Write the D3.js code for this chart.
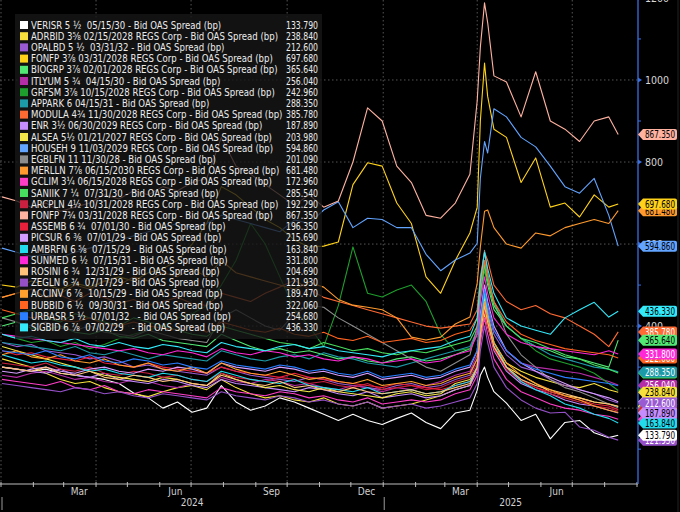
<!DOCTYPE html>
<html><head><meta charset="utf-8">
<script src="https://cdn.jsdelivr.net/npm/d3@7"></script>
<style>
html,body{margin:0;padding:0;background:#000;}
svg{display:block;}
text{font-family:'Liberation Sans Narrow','DejaVu Sans Condensed','Roboto Condensed',sans-serif;}
</style></head><body>
<svg id="c" width="680" height="512"></svg>
<script>
// ---------- DATA ----------
const dates = ["2024-01-02","2024-01-16","2024-01-30","2024-02-13","2024-02-27","2024-03-12","2024-03-26","2024-04-09","2024-04-23","2024-05-07","2024-05-21","2024-06-04","2024-06-18","2024-07-02","2024-07-16","2024-07-30","2024-08-13","2024-08-27","2024-09-10","2024-09-24","2024-10-08","2024-10-22","2024-11-05","2024-11-19","2024-12-03","2024-12-17","2024-12-31","2025-01-14","2025-01-28","2025-02-11","2025-02-25","2025-03-11","2025-03-25","2025-04-01","2025-04-04","2025-04-08","2025-04-11","2025-04-17","2025-04-29","2025-05-13","2025-05-27","2025-06-10","2025-06-24","2025-07-08","2025-07-22","2025-08-05","2025-08-14"];

const seriesNames = [
"VERISR 5 ½  05/15/30 - Bid OAS Spread (bp)",
"ADRBID 3⅝ 02/15/2028 REGS Corp - Bid OAS Spread (bp)",
"OPALBD 5 ½  03/31/32 - Bid OAS Spread (bp)",
"FONFP 3⅞ 03/31/2028 REGS Corp - Bid OAS Spread (bp)",
"BIOGRP 3⅞ 02/01/2028 REGS Corp - Bid OAS Spread (bp)",
"ITLYUM 5 ¾  04/15/30 - Bid OAS Spread (bp)",
"GRFSM 3⅞ 10/15/2028 REGS Corp - Bid OAS Spread (bp)",
"APPARK 6 04/15/31 - Bid OAS Spread (bp)",
"MODULA 4¾ 11/30/2028 REGS Corp - Bid OAS Spread (bp)",
"ENR 3½ 06/30/2029 REGS Corp - Bid OAS Spread (bp)",
"ALSEA 5½ 01/21/2027 REGS Corp - Bid OAS Spread (bp)",
"HOUSEH 9 11/03/2029 REGS Corp - Bid OAS Spread (bp)",
"EGBLFN 11 11/30/28 - Bid OAS Spread (bp)",
"MERLLN 7⅞ 06/15/2030 REGS Corp - Bid OAS Spread (bp)",
"GCLIM 3¼ 06/15/2028 REGS Corp - Bid OAS Spread (bp)",
"SANIIK 7 ¼  07/31/30 - Bid OAS Spread (bp)",
"ARCPLN 4½ 10/31/2028 REGS Corp - Bid OAS Spread (bp)",
"FONFP 7¾ 03/31/2028 REGS Corp - Bid OAS Spread (bp)",
"ASSEMB 6 ¾  07/01/30 - Bid OAS Spread (bp)",
"PICSUR 6 ⅜  07/01/29 - Bid OAS Spread (bp)",
"AMBRFN 6 ⅝  07/15/29 - Bid OAS Spread (bp)",
"SUNMED 6 ½  07/15/31 - Bid OAS Spread (bp)",
"ROSINI 6 ¾  12/31/29 - Bid OAS Spread (bp)",
"ZEGLN 6 ¾  07/17/29 - Bid OAS Spread (bp)",
"ACCINV 6 ⅞  10/15/29 - Bid OAS Spread (bp)",
"BUBBID 6 ½  09/30/31 - Bid OAS Spread (bp)",
"URBASR 5 ½  07/01/32   - Bid OAS Spread (bp)",
"SIGBID 6 ⅞  07/02/29   - Bid OAS Spread (bp)"
];

const seriesColors = ["#ffffff","#f7e03c","#9a5bd2","#ffd21a","#52e874","#b42ca6","#1e9e2c","#1c9aa8","#ff6a33","#c48cff","#f2e64a","#62a4ff","#8c8c8c","#ff9a2e","#ff3ec8","#47e05e","#c8203e","#ffb2a0","#e8203a","#d59cff","#22dcee","#ff28d6","#ffc27a","#9550c8","#ffa02e","#ff6320","#2a7eff","#33e9fa"];

const v_VERISR = [300,295,290,295,285,280,275,270,260,237,225,200,215,190,200,255,215,195,205,225,215,200,185,170,185,170,160,175,188,165,150,188,195,244,280,300,275,240,212,170,185,125,165,170,140,128,133.79];
const v_ADRBID = [320,310,300,285,270,260,265,250,240,235,228,240,250,255,245,270,250,235,225,230,220,215,225,210,205,215,200,205,210,220,230,245,255,300,400,470,430,360,310,290,275,265,255,250,260,245,238.84];
const v_OPALBD = [360,350,355,340,335,330,320,325,315,300,305,295,290,285,280,300,290,280,275,270,265,275,270,260,255,250,245,255,260,250,255,270,280,320,420,480,440,380,330,300,290,270,255,245,235,220,212.60];
const v_FONFP3 = [500,495,510,500,490,505,495,510,520,510,530,540,560,600,650,740,720,690,660,640,610,593,595,605,745,798,790,700,650,520,480,560,627,690,900,1041,960,880,860,750,810,690,700,666,720,690,697.68];
const v_BIOGRP = [400,410,395,390,400,385,380,390,375,370,380,365,360,355,350,380,365,350,340,345,335,340,330,320,325,315,310,320,325,315,320,330,345,380,470,540,500,440,400,370,350,340,325,320,310,300,365.64];
const v_ITLYUM = [280,275,285,290,280,270,275,265,260,270,265,255,250,260,255,275,265,260,270,265,255,260,250,245,255,250,240,250,245,255,265,280,290,330,420,500,450,390,340,310,300,295,290,285,275,265,256.04];
const v_GRFSM  = [380,370,360,365,350,360,345,355,370,380,390,400,420,430,450,500,560,650,600,520,440,400,350,450,593,480,471,488,500,460,380,340,345,380,470,540,510,450,400,370,340,320,310,300,285,260,242.96];
const v_APPARK = [360,355,350,345,340,350,335,330,340,330,320,330,325,320,315,340,330,320,315,325,330,320,335,325,320,310,305,300,310,320,330,340,350,390,480,560,520,460,400,370,350,330,320,310,300,295,288.35];
const v_MODULA = [470,480,490,470,475,460,480,470,455,465,450,460,470,455,450,480,470,460,480,495,512,490,470,460,450,440,430,420,410,400,395,400,405,440,520,580,560,500,460,440,450,430,420,400,380,350,385.78];
const v_ENR    = [300,295,290,285,295,280,275,285,270,265,260,270,265,255,250,270,260,255,250,245,240,250,245,235,230,240,225,230,235,225,230,245,255,290,370,440,400,340,290,260,245,235,220,210,205,195,187.89];
const v_ALSEA  = [350,340,330,320,310,300,290,280,275,270,265,275,270,260,255,285,270,260,250,255,245,240,250,240,235,230,225,235,240,230,235,260,270,300,380,430,400,350,300,280,260,240,230,225,215,210,203.98];
const v_HOUSEH = [590,580,570,575,568,580,590,600,610,620,630,640,650,640,650,670,660,650,640,630,659,650,683,703,640,663,660,640,640,575,535,561,578,602,760,850,822,930,910,860,837,790,740,724,760,670,594.86];
const v_EGBLFN = [420,410,400,410,395,390,400,385,380,375,390,380,370,365,360,420,440,420,400,390,430,450,446,420,400,380,360,340,320,300,290,310,330,400,500,585,529,460,380,330,300,270,250,240,225,210,201.09];
const v_MERLLN = [470,480,490,470,480,500,490,510,500,520,510,530,520,540,520,560,530,520,510,500,490,507,495,465,451,446,440,420,373,366,373,405,422,505,593,680,683,640,600,590,627,620,640,650,660,650,681.48];
const v_GCLIM  = [270,265,260,255,265,250,245,255,240,235,245,240,235,230,225,250,240,235,230,240,235,225,230,220,215,225,210,215,220,215,220,235,245,280,360,420,380,320,270,240,225,210,200,195,185,180,172.96];
const v_SANIIK = [420,430,440,420,410,430,420,410,400,420,410,400,390,380,375,400,390,380,370,360,355,345,360,350,340,345,335,330,340,335,345,355,365,400,480,550,510,450,400,370,360,345,330,320,305,295,285.54];
const v_ARCPLN = [310,305,300,310,295,290,300,285,280,290,285,275,280,270,265,285,275,270,265,275,270,260,265,255,250,260,245,250,255,245,250,265,275,310,390,450,410,350,300,270,250,235,225,215,205,200,192.29];
const v_FONFP7 = [715,705,690,700,680,690,700,720,710,730,720,740,730,750,760,860,790,770,745,720,695,720,690,705,800,932,900,790,750,670,663,700,770,950,1080,1188,1140,1010,995,910,1020,900,880,850,900,910,867.35];
const v_ASSEMB = [340,330,335,325,320,315,325,310,305,300,310,300,295,290,285,300,290,285,280,275,285,275,270,265,260,255,250,260,255,250,245,255,265,300,380,440,400,345,295,265,250,240,230,220,210,205,196.35];
const v_PICSUR = [290,285,295,300,290,285,295,300,290,285,295,290,300,295,285,310,300,295,290,300,295,285,290,280,275,285,270,275,280,270,275,290,300,340,430,500,460,400,340,310,290,275,260,245,235,225,215.69];
const v_AMBRFN = [330,320,310,315,305,300,290,295,285,280,275,285,280,270,265,290,280,270,265,260,270,255,250,245,240,250,235,240,245,235,240,255,265,300,400,480,430,360,300,265,245,230,210,200,185,175,163.84];
const v_SUNMED = [380,375,370,365,360,355,350,345,340,345,335,330,340,335,325,345,335,330,340,335,325,330,320,315,325,320,310,315,320,310,315,330,340,380,460,520,480,420,380,360,350,345,340,335,330,340,331.80];
const v_ROSINI = [300,295,290,300,285,280,290,275,270,280,275,265,270,260,255,280,270,260,255,265,250,255,245,240,250,240,235,240,245,235,240,250,260,300,380,450,410,350,300,270,255,245,235,225,215,210,204.69];
const v_ZEGLN  = [260,255,250,245,240,250,245,235,240,230,225,235,230,225,220,240,230,225,220,230,225,215,220,210,205,215,200,205,210,200,205,215,225,260,340,400,360,300,250,220,200,188,190,154,146,129,121.93];
const v_ACCINV = [330,340,325,320,330,315,310,320,305,300,310,295,290,300,285,310,295,285,280,290,280,270,275,265,260,270,255,260,265,255,260,275,285,320,400,460,420,360,310,280,260,245,230,220,205,195,189.47];
const v_BUBBID = [440,430,420,425,415,410,420,405,400,410,400,395,390,400,385,410,400,390,385,395,380,375,385,370,365,375,360,365,370,360,365,380,390,420,500,560,520,460,410,380,365,355,345,340,335,330,322.06];
const v_URBASR = [340,335,330,340,325,320,330,315,310,320,315,305,310,300,295,315,305,300,295,305,300,290,295,285,280,290,275,280,285,275,280,295,305,340,420,490,450,390,340,310,295,285,275,270,265,260,254.68];
const v_SIGBID = [380,370,375,365,360,370,355,350,360,350,345,355,350,340,335,360,350,345,340,350,355,345,350,340,335,330,325,335,340,345,350,365,375,420,510,580,540,480,420,400,390,380,420,440,458,422,436.33];

const yTicks = [200,400,600,800,1000,1200];
const monthLabels = ["Mar","Jun","Sep","Dec"];
const yearLabels = ["2024","2025"];
// draw order of the last-value tags (later = on top)
const tagOrder = [25,15,26,6,19,22,10,12,18,16,24,13,3,17,11,8,4,27,21,5,1,7,2,14,20,9,23,0];

// ---------- BUILD ----------
const allValues = [v_VERISR,v_ADRBID,v_OPALBD,v_FONFP3,v_BIOGRP,v_ITLYUM,v_GRFSM,v_APPARK,v_MODULA,v_ENR,v_ALSEA,v_HOUSEH,v_EGBLFN,v_MERLLN,v_GCLIM,v_SANIIK,v_ARCPLN,v_FONFP7,v_ASSEMB,v_PICSUR,v_AMBRFN,v_SUNMED,v_ROSINI,v_ZEGLN,v_ACCINV,v_BUBBID,v_URBASR,v_SIGBID];
const parse = d3.timeParse("%Y-%m-%d");
const dts = dates.map(parse);
const series = allValues.map((vals,i)=>({name:seriesNames[i], color:seriesColors[i], pts: vals.map((v,j)=>({d:dts[j], v})), last: vals[vals.length-1]}));

const svg = d3.select("#c");
const axisX = 638, plotBottom = 484;
const x = d3.scaleTime().domain([new Date(2024,0,1), new Date(2025,8,1)]).range([1, 637]);
const y = d3.scaleLinear().domain([15, 1195]).range([plotBottom, 0]);

svg.append("rect").attr("width",680).attr("height",512).attr("fill","#000");

svg.append("defs").append("clipPath").attr("id","plot").append("rect")
  .attr("x",0).attr("y",0).attr("width",axisX).attr("height",plotBottom);

// grid
const grid = svg.append("g");
grid.selectAll("line.h").data(yTicks.filter(t=>t<1195)).join("line")
  .attr("x1",0).attr("x2",axisX).attr("y1",d=>y(d)).attr("y2",d=>y(d))
  .attr("stroke","#6a6a6a").attr("stroke-width",0.8).attr("stroke-dasharray","1.5,2.5");
const quarters = d3.timeMonth.every(3).range(new Date(2024,0,1), new Date(2025,8,1));
grid.selectAll("line.v").data(quarters).join("line")
  .attr("x1",d=>x(d)).attr("x2",d=>x(d)).attr("y1",0).attr("y2",plotBottom)
  .attr("stroke","#6a6a6a").attr("stroke-width",0.8).attr("stroke-dasharray","1.5,2.5");

// lines
const line = d3.line().x(d=>x(d.d)).y(d=>y(d.v));
svg.append("g").attr("clip-path","url(#plot)")
  .selectAll("path").data(series).join("path")
  .attr("d",d=>line(d.pts)).attr("fill","none")
  .attr("stroke",d=>d.color).attr("stroke-width",1.1).attr("stroke-linejoin","round");

// legend
const lg = svg.append("g");
lg.append("rect").attr("x",15).attr("y",14).attr("width",307).attr("height",325)
  .attr("fill","rgb(22,22,22)").attr("fill-opacity",0.8);
const rows = lg.selectAll("g.row").data(series).join("g")
  .attr("transform",(d,i)=>`translate(0,${25 + i*11.2})`);
rows.append("rect").attr("x",20).attr("y",-4).attr("width",8).attr("height",8).attr("fill",d=>d.color);
const labels = rows.append("text").attr("x",31).attr("y",0).attr("dominant-baseline","central")
  .attr("fill","#ececec").attr("font-size","11px").style("white-space","pre").text(d=>d.name);
// horizontal compression so the longest label fits like the reference (~247px)
const widths = [];
labels.each(function(){ widths.push(this.getComputedTextLength()); });
const kx = Math.min(1, 247 / widths[1]);
labels.each(function(d,i){ d3.select(this).attr("textLength", widths[i]*kx).attr("lengthAdjust","spacingAndGlyphs"); });
rows.append("text").attr("x",318).attr("y",0).attr("dominant-baseline","central").attr("text-anchor","end")
  .attr("fill","#ececec").attr("font-size","11px").attr("textLength",32).attr("lengthAdjust","spacingAndGlyphs")
  .text(d=>d3.format(".3f")(d.last));

// x axis
const xa = svg.append("g");
xa.append("line").attr("x1",0).attr("x2",axisX).attr("y1",plotBottom).attr("y2",plotBottom)
  .attr("stroke","#bdbdbd").attr("stroke-width",1);
const months = d3.timeMonth.range(new Date(2024,0,1), new Date(2025,8,2));
xa.selectAll("line.t").data(months).join("line")
  .attr("x1",d=>x(d)).attr("x2",d=>x(d)).attr("y1",plotBottom-2).attr("y2",plotBottom+3)
  .attr("stroke","#bdbdbd").attr("stroke-width",1);
const labMonths = months.filter(d=>monthLabels.includes(d3.timeFormat("%b")(d)) && x(new Date(d.getFullYear(), d.getMonth(), 16)) < axisX-10);
xa.selectAll("text.m").data(labMonths).join("text")
  .attr("x",d=>x(new Date(d.getFullYear(), d.getMonth(), 16))).attr("y",495)
  .attr("text-anchor","middle").attr("fill","#d0d0d0").attr("font-size","10px")
  .text(d=>d3.timeFormat("%b")(d));
const yearStarts = [new Date(2024,0,1), new Date(2025,0,1)];
xa.selectAll("line.ys").data(yearStarts).join("line")
  .attr("x1",d=>x(d)+1).attr("x2",d=>x(d)+1).attr("y1",497).attr("y2",510)
  .attr("stroke","#9a9a9a").attr("stroke-width",1);
const yearMid = [ (x(yearStarts[0])+x(yearStarts[1]))/2, (x(yearStarts[1])+axisX)/2 ];
xa.selectAll("text.y").data(yearLabels).join("text")
  .attr("x",(d,i)=>yearMid[i]).attr("y",506).attr("text-anchor","middle")
  .attr("fill","#d0d0d0").attr("font-size","10px").text(d=>d);

// right axis
const ya = svg.append("g");
ya.append("line").attr("x1",axisX).attr("x2",axisX).attr("y1",0).attr("y2",plotBottom)
  .attr("stroke","#3b6fe0").attr("stroke-width",1.3);
ya.append("line").attr("x1",678).attr("x2",678).attr("y1",0).attr("y2",512)
  .attr("stroke","#222").attr("stroke-width",1);
const minor = d3.range(100,1200,200);
ya.selectAll("line.mn").data(minor).join("line")
  .attr("x1",axisX).attr("x2",axisX+3).attr("y1",d=>y(d)).attr("y2",d=>y(d))
  .attr("stroke","#3b6fe0").attr("stroke-width",1);
ya.selectAll("path.mj").data(yTicks).join("path")
  .attr("d",d=>`M${axisX},${y(d)-2.5}L${axisX+4},${y(d)}L${axisX},${y(d)+2.5}Z`)
  .attr("fill","#3b6fe0");
ya.selectAll("text").data(yTicks).join("text")
  .attr("x",645).attr("y",d=>y(d)).attr("dominant-baseline","central")
  .attr("fill","#d8d8d8").attr("font-size","10.5px").text(d=>d);

// last-value tags
const tagW = 39, tagH = 11;
const tags = svg.append("g").selectAll("g").data(tagOrder.map(i=>series[i])).join("g")
  .attr("transform",d=>`translate(${axisX},${y(d.last)})`);
tags.append("path")
  .attr("d",`M0,0L5,${-tagH/2}H${tagW-2}Q${tagW},${-tagH/2} ${tagW},${-tagH/2+2}V${tagH/2-2}Q${tagW},${tagH/2} ${tagW-2},${tagH/2}H5Z`)
  .attr("fill",d=>d.color);
tags.append("text").attr("x",7).attr("y",0.5).attr("dominant-baseline","central")
  .attr("font-size","10px").attr("textLength",30).attr("lengthAdjust","spacingAndGlyphs")
  .attr("fill",d=>{const c=d3.rgb(d.color); return (0.299*c.r+0.587*c.g+0.114*c.b)>150?"#000":"#fff";})
  .text(d=>d3.format(".3f")(d.last));
</script>
</body></html>
